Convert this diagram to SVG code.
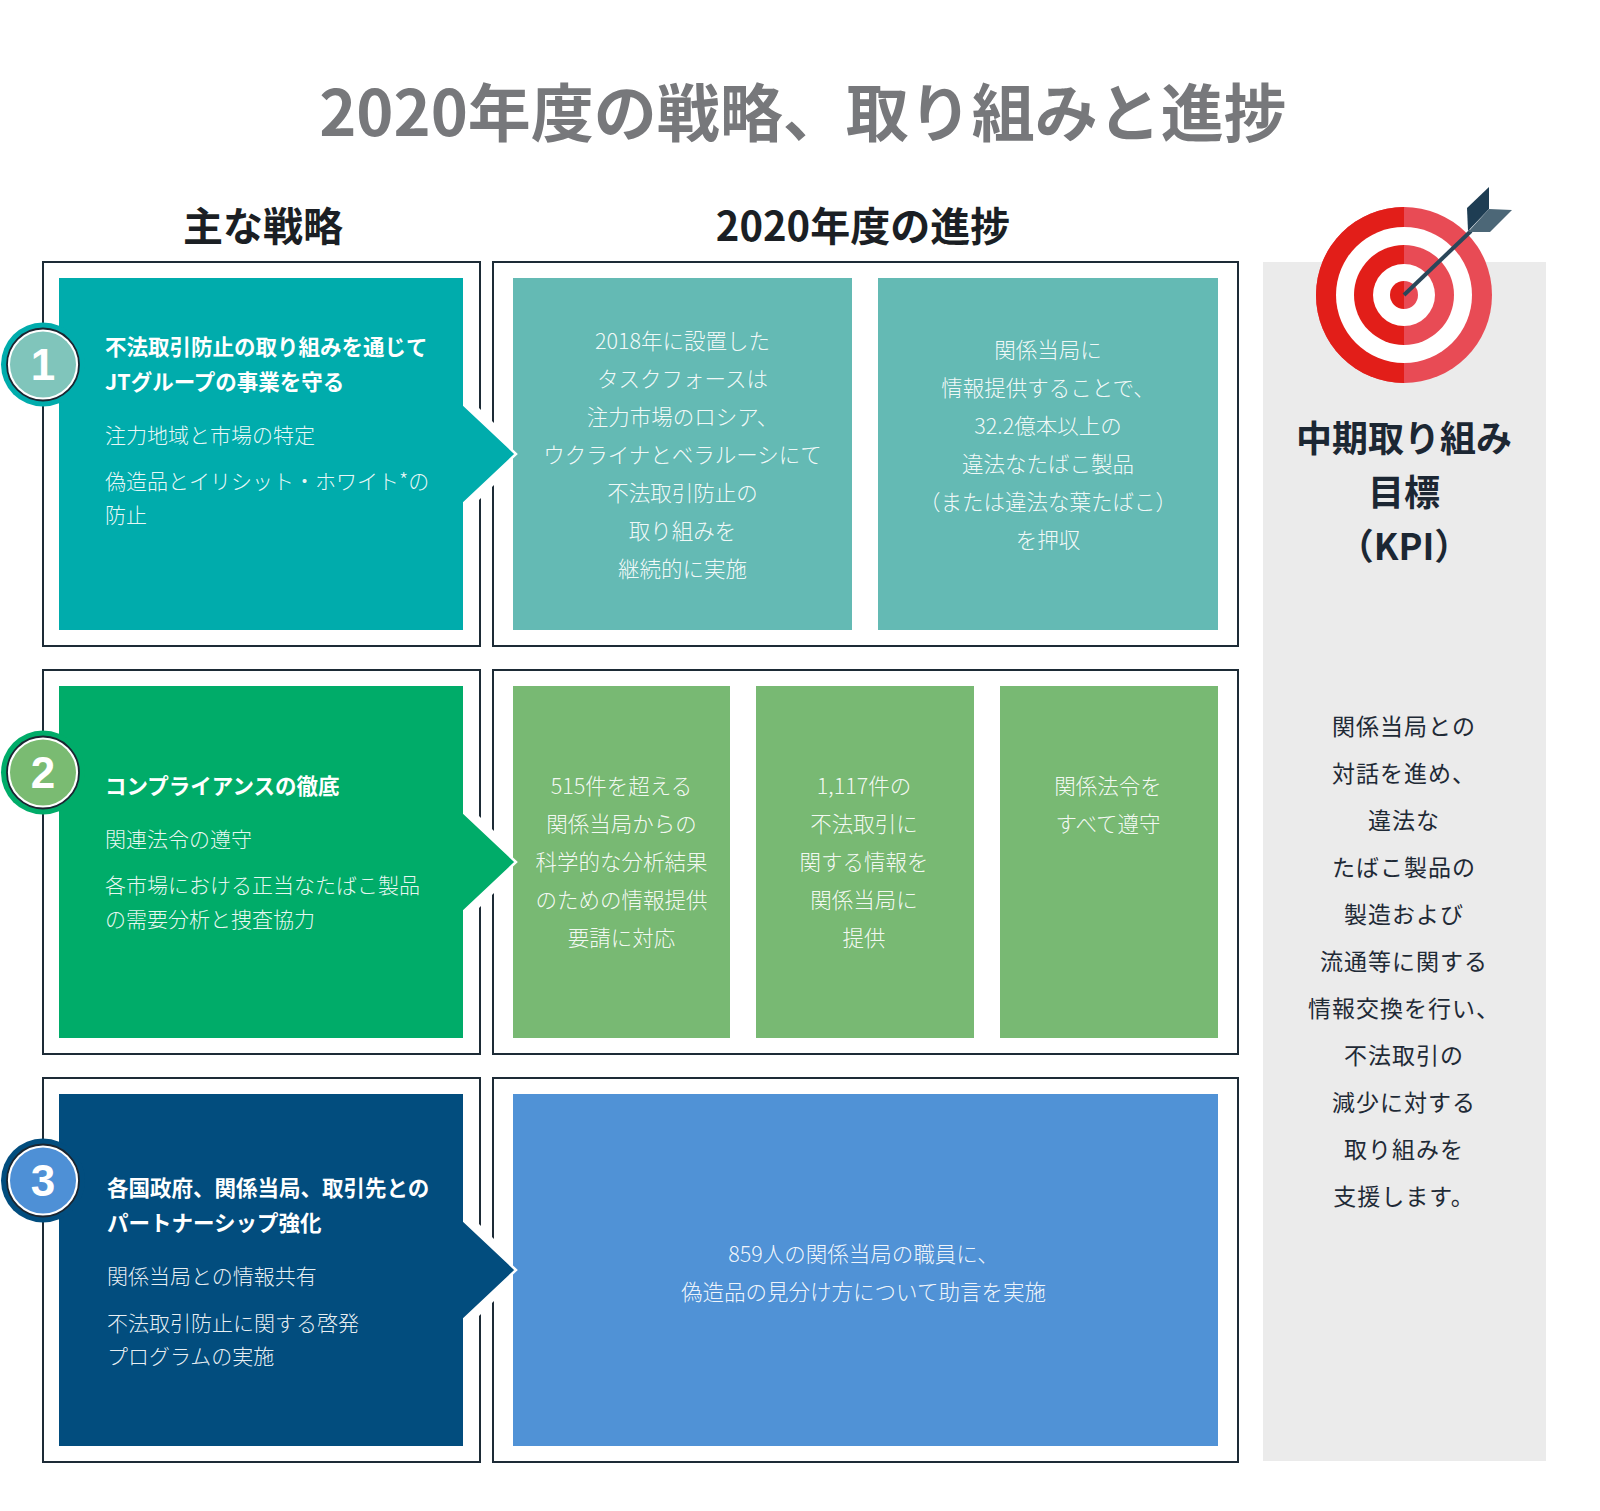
<svg xmlns="http://www.w3.org/2000/svg" width="1600" height="1511" viewBox="0 0 1600 1511">
<defs>
<style>
text{font-family:"Noto Sans CJK JP","Noto Sans CJK SC",sans-serif}
.title{font-size:63px;font-weight:700;fill:#77787B}
.hdr{font-size:40px;font-weight:700;fill:#1B1F24}
.frame{fill:none;stroke:#1D2B36;stroke-width:2}
.sb{font-size:21.5px;font-weight:700;fill:#FFFFFF}
.sr{font-size:21px;font-weight:300;fill:#FFFFFF;fill-opacity:0.92}
.mt{font-size:21.5px;font-weight:300;fill:#FFFFFF;fill-opacity:0.93;text-anchor:middle}
.num{font-family:"Liberation Sans",Arial,sans-serif;font-size:44px;font-weight:700;fill:#FFFFFF;text-anchor:middle}
.kh{font-size:36px;font-weight:700;fill:#1C2733;text-anchor:middle}
.kb{font-size:23px;font-weight:400;fill:#1F2A36;text-anchor:middle;letter-spacing:1px}
.mask{fill:#FFFFFF}
.arrow{stroke:#FFFFFF;stroke-width:2.5;stroke-linejoin:miter}
.ring-o{fill:#FFFFFF;stroke:#1B2631;stroke-width:1.8}
</style>
<clipPath id="lefthalf"><rect x="1300" y="190" width="104" height="220"/></clipPath>
</defs>
<rect width="1600" height="1511" fill="#FFFFFF"/>

<text class="title" x="803" y="136" text-anchor="middle">2020年度の戦略、取り組みと進捗</text>
<text class="hdr" x="263" y="241" text-anchor="middle">主な戦略</text>
<text class="hdr" x="863" y="241" text-anchor="middle">2020年度の進捗</text>

<!-- KPI panel -->
<g id="kpi">
<rect x="1263" y="262" width="283" height="1199" fill="#EBEBEB"/>
<g id="target">
<circle cx="1404" cy="295" r="88" fill="#E84B55"/>
<circle cx="1404" cy="295" r="68" fill="#FFFFFF"/>
<circle cx="1404" cy="295" r="50" fill="#E84B55"/>
<circle cx="1404" cy="295" r="31" fill="#FFFFFF"/>
<circle cx="1404" cy="295" r="14" fill="#E84B55"/>
<g clip-path="url(#lefthalf)">
<circle cx="1404" cy="295" r="88" fill="#E21E19"/>
<circle cx="1404" cy="295" r="68" fill="#FFFFFF"/>
<circle cx="1404" cy="295" r="50" fill="#E21E19"/>
<circle cx="1404" cy="295" r="31" fill="#FFFFFF"/>
<circle cx="1404" cy="295" r="14" fill="#E21E19"/>
</g>
<line x1="1404" y1="295" x2="1471" y2="231" stroke="#2A475A" stroke-width="4"/>
<polygon points="1467,208 1489,187 1489,209 1468,231" fill="#1E3D53"/>
<polygon points="1489,209 1512,210 1490,232 1468,232" fill="#4C6777"/>
</g>
<text class="kh" x="1404" y="452">中期取り組み</text>
<text class="kh" x="1404" y="506">目標</text>
<text class="kh" x="1404" y="560">（KPI）</text>
<text class="kb" x="1404" y="735">関係当局との</text>
<text class="kb" x="1404" y="782">対話を進め、</text>
<text class="kb" x="1404" y="829">違法な</text>
<text class="kb" x="1404" y="876">たばこ製品の</text>
<text class="kb" x="1404" y="923">製造および</text>
<text class="kb" x="1404" y="970">流通等に関する</text>
<text class="kb" x="1404" y="1017">情報交換を行い、</text>
<text class="kb" x="1404" y="1064">不法取引の</text>
<text class="kb" x="1404" y="1111">減少に対する</text>
<text class="kb" x="1404" y="1158">取り組みを</text>
<text class="kb" x="1404" y="1205">支援します。</text>
</g>

<!-- Row 1 -->
<g id="row1-progress">
<rect class="frame" x="493" y="262" width="745" height="384"/>
<rect x="513" y="278" width="339" height="352" fill="#64BAB4"/>
<rect x="878" y="278" width="340" height="352" fill="#64BAB4"/>
<text class="mt" x="682.5" y="349">2018年に設置した</text>
<text class="mt" x="682.5" y="387">タスクフォースは</text>
<text class="mt" x="682.5" y="425">注力市場のロシア、</text>
<text class="mt" x="682.5" y="463">ウクライナとベラルーシにて</text>
<text class="mt" x="682.5" y="501">不法取引防止の</text>
<text class="mt" x="682.5" y="539">取り組みを</text>
<text class="mt" x="682.5" y="577">継続的に実施</text>
<text class="mt" x="1048" y="358">関係当局に</text>
<text class="mt" x="1048" y="396">情報提供することで、</text>
<text class="mt" x="1048" y="434">32.2億本以上の</text>
<text class="mt" x="1048" y="472">違法なたばこ製品</text>
<text class="mt" x="1048" y="510">（または違法な葉たばこ）</text>
<text class="mt" x="1048" y="548">を押収</text>
</g>
<g id="row1-strategy">
<rect class="frame" x="43" y="262" width="437" height="384"/>
<polygon class="mask" points="463,392 511,440 511,468 463,516"/>
<polygon class="arrow" points="440,404 463,404 516,454 463,504 440,504" fill="#00ACAC"/>
<rect x="59" y="278" width="404" height="352" fill="#00ACAC"/>
<circle cx="43" cy="364.5" r="42" fill="#00ACAC"/>
<circle class="ring-o" cx="43" cy="364.5" r="36"/>
<circle cx="43" cy="364.5" r="33" fill="#80C5BB"/>
<text class="num" x="43" y="380">1</text>
<text class="sb" x="105" y="355">不法取引防止の取り組みを通じて</text>
<text class="sb" x="105" y="390">JTグループの事業を守る</text>
<text class="sr" x="105" y="443">注力地域と市場の特定</text>
<text class="sr" x="105" y="489">偽造品とイリシット・ホワイト*の</text>
<text class="sr" x="105" y="523">防止</text>
</g>

<!-- Row 2 -->
<g id="row2-progress">
<rect class="frame" x="493" y="670" width="745" height="384"/>
<rect x="513" y="686" width="217" height="352" fill="#78B973"/>
<rect x="756" y="686" width="218" height="352" fill="#78B973"/>
<rect x="1000" y="686" width="218" height="352" fill="#78B973"/>
<text class="mt" x="621.5" y="794">515件を超える</text>
<text class="mt" x="621.5" y="832">関係当局からの</text>
<text class="mt" x="621.5" y="870">科学的な分析結果</text>
<text class="mt" x="621.5" y="908">のための情報提供</text>
<text class="mt" x="621.5" y="946">要請に対応</text>
<text class="mt" x="864" y="794">1,117件の</text>
<text class="mt" x="864" y="832">不法取引に</text>
<text class="mt" x="864" y="870">関する情報を</text>
<text class="mt" x="864" y="908">関係当局に</text>
<text class="mt" x="864" y="946">提供</text>
<text class="mt" x="1108" y="794">関係法令を</text>
<text class="mt" x="1108" y="832">すべて遵守</text>
</g>
<g id="row2-strategy">
<rect class="frame" x="43" y="670" width="437" height="384"/>
<polygon class="mask" points="463,800 511,848 511,876 463,924"/>
<polygon class="arrow" points="440,812 463,812 516,862 463,912 440,912" fill="#00AC69"/>
<rect x="59" y="686" width="404" height="352" fill="#00AC69"/>
<circle cx="43" cy="772.5" r="42" fill="#00AC69"/>
<circle class="ring-o" cx="43" cy="772.5" r="36"/>
<circle cx="43" cy="772.5" r="33" fill="#7ABB72"/>
<text class="num" x="43" y="788">2</text>
<text class="sb" x="105" y="794">コンプライアンスの徹底</text>
<text class="sr" x="105" y="847">関連法令の遵守</text>
<text class="sr" x="105" y="893">各市場における正当なたばこ製品</text>
<text class="sr" x="105" y="927">の需要分析と捜査協力</text>
</g>

<!-- Row 3 -->
<g id="row3-progress">
<rect class="frame" x="493" y="1078" width="745" height="384"/>
<rect x="513" y="1094" width="705" height="352" fill="#5092D6"/>
<text class="mt" x="863.5" y="1262">859人の関係当局の職員に、</text>
<text class="mt" x="863.5" y="1300">偽造品の見分け方について助言を実施</text>
</g>
<g id="row3-strategy">
<rect class="frame" x="43" y="1078" width="437" height="384"/>
<polygon class="mask" points="463,1208 511,1256 511,1284 463,1332"/>
<polygon class="arrow" points="440,1220 463,1220 516,1270 463,1320 440,1320" fill="#024D7E"/>
<rect x="59" y="1094" width="404" height="352" fill="#024D7E"/>
<circle cx="43" cy="1180.5" r="42" fill="#024D7E"/>
<circle class="ring-o" cx="43" cy="1180.5" r="36"/>
<circle cx="43" cy="1180.5" r="33" fill="#4E90D6"/>
<text class="num" x="43" y="1196">3</text>
<text class="sb" x="107" y="1196">各国政府、関係当局、取引先との</text>
<text class="sb" x="107" y="1231">パートナーシップ強化</text>
<text class="sr" x="107" y="1284">関係当局との情報共有</text>
<text class="sr" x="107" y="1331">不法取引防止に関する啓発</text>
<text class="sr" x="107" y="1364">プログラムの実施</text>
</g>
</svg>
